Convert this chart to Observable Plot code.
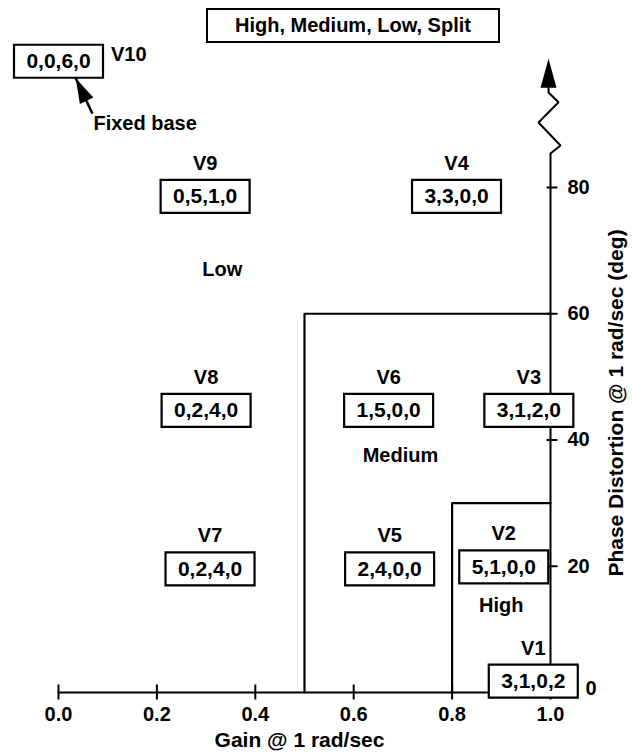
<!DOCTYPE html>
<html>
<head>
<meta charset="utf-8">
<script src="https://cdn.jsdelivr.net/npm/d3@7"></script>
<script src="https://cdn.jsdelivr.net/npm/@observablehq/plot@0.6"></script>
<style>
  body { margin: 0; background: white; }
  #wrap { position: relative; width: 633px; height: 753px; background: white; }
  #title {
    position: absolute; left: 206px; top: 8px; width: 294px; height: 35px;
    box-sizing: border-box; border: 2px solid black;
    font: bold 20px "Liberation Sans", Arial, Helvetica, sans-serif;
    display: flex; align-items: center; justify-content: center; color: black;
  }
  #chart { position: absolute; left: 0; top: 44px; }
  #chart svg { overflow: visible; }
</style>
</head>
<body>
<div id="wrap">
  <div id="title">High, Medium, Low, Split</div>
  <div id="chart"></div>
</div>
<script>
// ---- data ----
const vertexNames = ["V1", "V2", "V3", "V4", "V5", "V6", "V7", "V8", "V9", "V10"];
const mixCodes = ["3,1,0,2", "5,1,0,0", "3,1,2,0", "3,3,0,0", "2,4,0,0", "1,5,0,0", "0,2,4,0", "0,2,4,0", "0,5,1,0", "0,0,6,0"];
const gainValues = [0.965, 0.905, 0.956, 0.809, 0.673, 0.671, 0.308, 0.300, 0.298, 0.0];
const phaseValues = [1.8, 19.9, 44.7, 78.6, 19.6, 44.7, 19.6, 44.7, 78.6, 100.0];

const mediumBoundaryGain = [0.5, 0.5, 1.0];
const mediumBoundaryPhase = [0, 60, 60];
const highBoundaryGain = [0.8, 0.8, 1.0];
const highBoundaryPhase = [0, 30, 30];

const regionNames = ["Low", "Medium", "High"];
const regionGain = [0.333, 0.695, 0.9];
const regionPhase = [67.0, 37.5, 13.8];

// phase axis with break and arrow
const phaseAxisGain = [1.0, 1.0, 1.0203, 0.9756, 1.0163, 0.996, 0.996];
const phaseAxisPhase = [0, 85.4, 86.65, 90.3, 93.5, 95.05, 96.0];
const phaseAxisTip = {gain: 0.996, phase: 100.4};

// "Fixed base" annotation
const fixedBaseText = "Fixed base";
const fixedBaseTail = {gain: 0.069, phase: 91.7};
const fixedBaseTip = {gain: 0.035, phase: 97.3};

const xTicks = [0, 0.2, 0.4, 0.6, 0.8, 1.0];
const yTicks = [0, 20, 40, 60, 80];
const xTitle = "Gain @ 1 rad/sec";
const yTitle = "Phase Distortion @ 1 rad/sec (deg)";

// ---- build tables ----
const vertices = vertexNames.map((name, i) => ({name, code: mixCodes[i], gain: gainValues[i], phase: phaseValues[i]}));
const mediumBoundary = mediumBoundaryGain.map((g, i) => ({gain: g, phase: mediumBoundaryPhase[i]}));
const highBoundary = highBoundaryGain.map((g, i) => ({gain: g, phase: highBoundaryPhase[i]}));
const regions = regionNames.map((name, i) => ({name, gain: regionGain[i], phase: regionPhase[i]}));
const phaseAxis = phaseAxisGain.map((g, i) => ({gain: g, phase: phaseAxisPhase[i]}));
const xTickRows = xTicks.map(v => ({gain: v, phase: 0}));
const yTickRows = yTicks.map(v => ({gain: 1, phase: v}));

// ---- custom symbols ----
const vTick = {draw(ctx) { ctx.moveTo(0, -8); ctx.lineTo(0, 7); }};
const hTick = {draw(ctx) { ctx.moveTo(-4, 0); ctx.lineTo(7, 0); }};
const boxSym = {draw(ctx) { ctx.rect(-44.5, -16.5, 89, 33); }};
function headSym(ux, uy, len, w) {
  const n = Math.hypot(ux, uy); ux /= n; uy /= n;
  return {draw(ctx) {
    const bx = ux * len, by = uy * len, px = -uy * w / 2, py = ux * w / 2;
    ctx.moveTo(0, 0); ctx.lineTo(bx + px, by + py); ctx.lineTo(bx - px, by - py); ctx.closePath();
  }};
}

const font = "'Liberation Sans', Arial, Helvetica, sans-serif";
const fmt1 = d3.format(".1f");

const chart = Plot.plot({
  width: 633,
  height: 709,
  marginLeft: 58,
  marginRight: 83,
  marginTop: 143,
  marginBottom: 61,
  x: {domain: [0, 1], axis: null},
  y: {domain: [0, 80], axis: null},
  style: {fontFamily: font, fontWeight: "bold", fontSize: "20px", color: "black", background: "white"},
  marks: [
    // axis lines
    Plot.line([{gain: 0, phase: 0}, {gain: 1, phase: 0}], {x: "gain", y: "phase", stroke: "black", strokeWidth: 2.2}),
    Plot.line(phaseAxis, {x: "gain", y: "phase", stroke: "black", strokeWidth: 2, strokeLinejoin: "miter"}),
    Plot.dot([phaseAxisTip], {x: "gain", y: "phase", symbol: headSym(0, 1, 29, 16), fill: "black", stroke: "none"}),
    // region boundaries
    Plot.line(mediumBoundary, {x: "gain", y: "phase", stroke: "black", strokeWidth: 2.2}),
    Plot.line(highBoundary, {x: "gain", y: "phase", stroke: "black", strokeWidth: 2.2}),
    // ticks
    Plot.dot(xTickRows, {x: "gain", y: "phase", symbol: vTick, stroke: "black", fill: "none", strokeWidth: 2}),
    Plot.dot(yTickRows, {x: "gain", y: "phase", symbol: hTick, stroke: "black", fill: "none", strokeWidth: 2}),
    // tick labels
    Plot.text(xTickRows, {x: "gain", y: "phase", text: d => fmt1(d.gain), dy: 22, lineAnchor: "middle", fontSize: 20, fontWeight: "bold"}),
    Plot.text(yTickRows.filter(d => d.phase > 0), {x: "gain", y: "phase", text: d => String(d.phase), dx: 17, textAnchor: "start", lineAnchor: "middle", fontSize: 20, fontWeight: "bold"}),
    Plot.text(yTickRows.filter(d => d.phase === 0), {x: "gain", y: "phase", text: d => String(d.phase), dx: 35, dy: -4, textAnchor: "start", lineAnchor: "middle", fontSize: 20, fontWeight: "bold"}),
    // axis titles
    Plot.text([xTitle], {frameAnchor: "bottom", dy: 48, dx: -5, lineAnchor: "middle", textAnchor: "middle", fontSize: 21, fontWeight: "bold"}),
    Plot.text([yTitle], {frameAnchor: "right", dx: 66, dy: -37, rotate: -90, lineAnchor: "middle", textAnchor: "middle", fontSize: 21, fontWeight: "bold"}),
    // region names
    Plot.text(regions, {x: "gain", y: "phase", text: "name", fontSize: 20, fontWeight: "bold"}),
    // fixed base annotation
    Plot.link([{t: fixedBaseTail, h: fixedBaseTip}], {x1: d => d.t.gain, y1: d => d.t.phase, x2: d => d.h.gain, y2: d => d.h.phase, stroke: "black", strokeWidth: 2.5}),
    Plot.dot([fixedBaseTip], {x: "gain", y: "phase", symbol: headSym(17, 35, 25, 15), fill: "black", stroke: "none"}),
    Plot.text([fixedBaseText], {x: () => fixedBaseTail.gain, y: () => fixedBaseTail.phase, dx: 1, dy: 10, textAnchor: "start", fontSize: 20, fontWeight: "bold"}),
    // vertex boxes
    Plot.dot(vertices, {x: "gain", y: "phase", symbol: boxSym, fill: "white", stroke: "black", strokeWidth: 2.2}),
    Plot.text(vertices, {x: "gain", y: "phase", text: "code", fontSize: 21, fontWeight: "bold"}),
    Plot.text(vertices.filter(d => d.name !== "V10"), {x: "gain", y: "phase", text: "name", dy: -33, fontSize: 20, fontWeight: "bold"}),
    Plot.text(vertices.filter(d => d.name === "V10"), {x: "gain", y: "phase", text: "name", dx: 52.5, dy: -6.5, textAnchor: "start", fontSize: 20, fontWeight: "bold"})
  ]
});
document.getElementById("chart").appendChild(chart);
</script>
</body>
</html>
